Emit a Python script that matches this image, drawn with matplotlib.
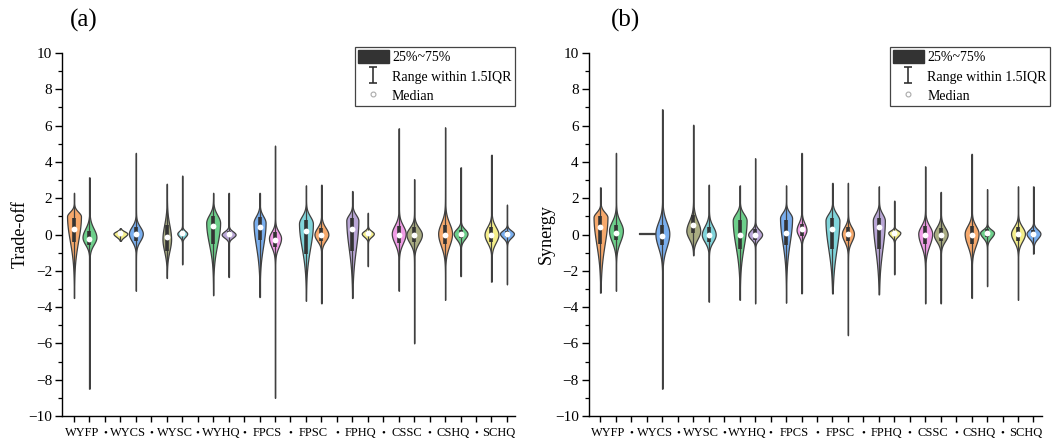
import numpy as np
import matplotlib
matplotlib.use("Agg")
import matplotlib.pyplot as plt
from matplotlib.path import Path
from matplotlib.patches import Patch
from matplotlib.lines import Line2D

plt.rcParams['font.family'] = ['Liberation Serif', 'DejaVu Serif']

categories = ['WYFP', 'WYCS', 'WYSC', 'WYHQ', 'FPCS', 'FPSC', 'FPHQ', 'CSSC', 'CSHQ', 'SCHQ']
colors = ['#F6A96C', '#6DCF8B', '#F4EE8A', '#79AEEE', '#A9AC82', '#80D4DA',
          '#6DCF8B', '#B9A6D6', '#79AEEE', '#F09CE6', '#80D4DA', '#F6A96C',
          '#B9A6D6', '#F4EE8A', '#F09CE6', '#A9AC82', '#F6A96C', '#6DCF8B',
          '#F4EE8A', '#79AEEE']

# ---- panel (a): Trade-off ----
a_lo   = [-3.5, -8.5, -0.35, -3.1, -2.4, -1.65, -3.35, -2.35, -3.45, -9.0,
          -3.65, -3.8, -3.5, -1.75, -3.1, -6.0, -3.6, -2.3, -2.6, -2.75]
a_q1   = [-0.4, -0.6, 0.0, -0.35, -0.9, -0.05, -0.5, -0.1, -0.3, -0.7,
          -1.1, -0.35, -0.9, 0.0, -0.45, -0.4, -0.55, -0.2, -0.4, -0.15]
a_med  = [0.3, -0.27, 0.1, 0.03, -0.15, 0.1, 0.45, 0.05, 0.4, -0.33,
          0.22, 0.0, 0.33, 0.1, 0.0, 0.0, 0.0, 0.05, 0.0, 0.05]
a_q3   = [0.9, 0.2, 0.15, 0.4, 0.55, 0.2, 1.0, 0.2, 0.95, 0.15,
          0.8, 0.35, 0.9, 0.2, 0.45, 0.4, 0.55, 0.25, 0.4, 0.2]
a_hi   = [2.3, 3.15, 0.35, 4.5, 2.8, 3.25, 2.3, 2.3, 2.3, 4.9,
          2.7, 2.75, 2.4, 1.2, 5.85, 3.05, 5.9, 3.7, 4.4, 1.65]
a_blo  = [-1.7, -0.95, -0.3, -0.75, -1.6, -0.3, -1.7, -0.35, -1.9, -1.15,
          -2.1, -0.7, -2.3, -0.3, -1.0, -0.9, -1.3, -0.55, -0.9, -0.4]
a_peak = [1.0, -0.15, 0.05, 0.05, -0.25, 0.05, 0.65, 0.0, 0.65, -0.2,
          0.6, 0.0, 0.77, 0.05, 0.05, 0.0, 0.05, 0.05, 0.0, 0.05]
a_bhi  = [1.5, 0.8, 0.3, 0.8, 1.3, 0.35, 1.5, 0.35, 1.38, 0.5,
          1.4, 0.75, 1.4, 0.35, 0.95, 0.75, 1.2, 0.55, 0.85, 0.4]
a_hw   = [0.45, 0.45, 0.45, 0.45, 0.28, 0.32, 0.45, 0.45, 0.39, 0.39,
          0.45, 0.45, 0.39, 0.39, 0.45, 0.5, 0.45, 0.45, 0.45, 0.45]

# ---- panel (b): Synergy ----
b_lo   = [-3.2, -3.1, 0.05, -8.5, -1.15, -3.7, -3.6, -3.8, -3.75, -3.25,
          -3.25, -5.55, -3.3, -2.2, -3.8, -3.8, -3.5, -2.85, -3.6, -1.05]
b_q1   = [-0.5, -0.3, 0.05, -0.6, 0.1, -0.4, -0.8, -0.3, -0.6, -0.1,
          -0.8, -0.35, -0.8, 0.0, -0.5, -0.35, -0.5, -0.15, -0.35, -0.15]
b_med  = [0.4, 0.1, 0.05, -0.1, 0.55, 0.0, 0.0, 0.0, 0.1, 0.3,
          0.33, 0.05, 0.4, 0.1, -0.05, 0.0, -0.05, 0.1, 0.05, 0.05]
b_q3   = [1.0, 0.55, 0.05, 0.5, 1.1, 0.4, 0.8, 0.3, 0.8, 0.6,
          0.9, 0.4, 0.9, 0.2, 0.45, 0.35, 0.45, 0.3, 0.4, 0.25]
b_hi   = [2.6, 4.5, 0.05, 6.9, 6.05, 2.75, 2.7, 4.2, 2.7, 4.5,
          2.85, 2.85, 2.65, 1.87, 3.75, 2.35, 4.45, 2.5, 2.65, 2.65]
b_blo  = [-2.0, -1.0, 0.05, -1.45, -0.7, -0.8, -2.0, -0.5, -1.8, -0.4,
          -2.35, -0.8, -2.35, -0.3, -1.25, -0.75, -1.25, -0.45, -0.8, -0.5]
b_peak = [0.95, 0.22, 0.05, 0.05, 0.2, 0.0, 0.77, 0.0, 0.9, 0.25,
          0.77, 0.05, 0.77, 0.1, 0.05, 0.0, 0.05, 0.1, 0.05, 0.05]
b_bhi  = [1.5, 1.2, 0.05, 1.3, 1.3, 0.9, 1.5, 0.5, 1.5, 1.0,
          1.5, 0.77, 1.5, 0.35, 0.9, 0.8, 0.9, 0.45, 0.8, 0.5]
b_hw   = [0.45, 0.45, 0.5, 0.45, 0.45, 0.45, 0.45, 0.45, 0.39, 0.32,
          0.45, 0.39, 0.39, 0.39, 0.45, 0.45, 0.45, 0.45, 0.45, 0.45]

positions = [3 * i + k for i in range(len(categories)) for k in (1, 2)]
gap_positions = [3 * i for i in range(1, len(categories))]
EDGE = '#404040'


def profile(lo, hi, blo, pk, bhi, med):
    if hi - lo < 0.05:
        return np.array([med - 0.02, med + 0.02]), np.array([1.0, 1.0])
    y = np.linspace(lo, hi, 400)
    s = np.where(y >= pk, max((bhi - pk) / 2.0, 0.03), max((pk - blo) / 2.0, 0.03))
    core = np.exp(-0.5 * ((y - pk) / s) ** 2)
    t = np.where(y >= pk, max(hi - pk, 0.05) * 0.3, max(pk - lo, 0.05) * 0.3)
    tail = 0.025 * np.exp(-np.abs(y - pk) / t)
    return y, core + tail


def draw_panel(ax, lo, q1, med, q3, hi, blo, pk, bhi, hw):
    for i, pos in enumerate(positions):
        coords, vals = profile(lo[i], hi[i], blo[i], pk[i], bhi[i], med[i])
        stats = [dict(coords=coords, vals=vals, mean=med[i], median=med[i],
                      min=lo[i], max=hi[i], quantiles=[])]
        parts = ax.violin(stats, positions=[pos], widths=2 * hw[i],
                          showmeans=False, showextrema=False, showmedians=False)
        for b in parts['bodies']:
            b.set_facecolor(colors[i])
            b.set_edgecolor(EDGE)
            b.set_linewidth(0.9)
            b.set_alpha(1)
            b.set_zorder(2)
        if hi[i] - lo[i] < 0.05:
            continue
        ax.vlines(pos, lo[i], hi[i], color=EDGE, lw=0.9, zorder=3)
        ax.vlines(pos, q1[i], q3[i], color='#333333', lw=2.6, zorder=4)
        ax.plot([pos], [med[i]], marker='o', ms=4.2, mfc='white', mec='none', zorder=5)

    ax.set_xlim(0.224, 29.52)
    ax.set_ylim(-10, 10)
    ax.set_yticks(np.arange(-10, 11, 2))
    ax.set_yticks(np.arange(-10, 11, 1), minor=True)
    ax.set_xticks(range(1, 30))
    ax.set_xticklabels([])
    for s in ('top', 'right'):
        ax.spines[s].set_visible(False)
    for s in ('left', 'bottom'):
        ax.spines[s].set_linewidth(1.0)
    ax.tick_params(axis='y', which='major', length=5, width=1.0, direction='out',
                   labelsize=11, pad=2)
    ax.tick_params(axis='y', which='minor', length=3, width=0.9, direction='out')
    ax.tick_params(axis='x', which='major', length=4, width=1.0, direction='out')
    tr = ax.get_xaxis_transform()
    for i, c in enumerate(categories):
        ax.text(3 * i + 1.5, -0.03, c, transform=tr, ha='center', va='top',
                fontsize=9)
    for g in gap_positions:
        ax.text(g, -0.034, '\u2022', transform=tr, ha='center', va='top',
                fontsize=8)


def add_legend(ax, xanchor):
    ibeam = Path([(-0.5, 1), (0.5, 1), (0, 1), (0, -1), (-0.5, -1), (0.5, -1)],
                 [Path.MOVETO, Path.LINETO, Path.MOVETO, Path.LINETO, Path.MOVETO, Path.LINETO])
    handles = [Patch(facecolor='#333333', edgecolor='#333333'),
               Line2D([], [], ls='none', marker=ibeam, ms=12, mec='#333333', mew=1.2),
               Line2D([], [], ls='none', marker='o', ms=3.5, mfc='white', mec='#aaaaaa', mew=0.8)]
    labels = ['25%~75%', 'Range within 1.5IQR', 'Median']
    leg = ax.legend(handles, labels, loc='upper right', bbox_to_anchor=(xanchor, 1.017),
                    borderaxespad=0, fontsize=10, frameon=True, fancybox=False,
                    edgecolor='#444444', framealpha=1, borderpad=0.25, labelspacing=0.36,
                    handlelength=2.2, handleheight=1.05, handletextpad=0.25)
    leg.get_frame().set_linewidth(0.9)


fig = plt.figure(figsize=(10.55, 4.46), dpi=100)
axA = fig.add_axes([62 / 1055, 30 / 446, 453 / 1055, 363 / 446])
axB = fig.add_axes([588.5 / 1055, 30 / 446, 453 / 1055, 363 / 446])

draw_panel(axA, a_lo, a_q1, a_med, a_q3, a_hi, a_blo, a_peak, a_bhi, a_hw)
draw_panel(axB, b_lo, b_q1, b_med, b_q3, b_hi, b_blo, b_peak, b_bhi, b_hw)
axA.set_ylabel('Trade-off', fontsize=13, labelpad=0)
axB.set_ylabel('Synergy', fontsize=13, labelpad=0)
add_legend(axA, 1.0)
add_legend(axB, 1.019)

fig.text(84 / 1055, 1 - 20 / 446, '(a)', ha='center', va='center', fontsize=18)
fig.text(626 / 1055, 1 - 20 / 446, '(b)', ha='center', va='center', fontsize=18)

fig.savefig('out.png', dpi=100)
